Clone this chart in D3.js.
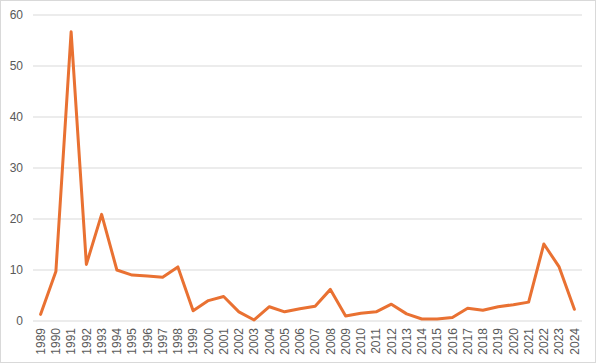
<!DOCTYPE html>
<html lang="en">
<head>
<meta charset="UTF-8">
<title>Line chart 1989-2024</title>
<script src="https://d3js.org/d3.v7.min.js"></script>
<style>
  body { margin: 0; background: #fff; font-family: "Liberation Sans", Arial, sans-serif; }
  .axis text { fill: #595959; }
</style>
</head>
<body>
<svg id="chart" width="597" height="364"></svg>
<script>
// Data
const years = ["1989","1990","1991","1992","1993","1994","1995","1996","1997","1998",
  "1999","2000","2001","2002","2003","2004","2005","2006","2007","2008",
  "2009","2010","2011","2012","2013","2014","2015","2016","2017","2018",
  "2019","2020","2021","2022","2023","2024"];
const values = [1.3, 9.7, 56.7, 11.1, 20.9, 10.0, 9.0, 8.8, 8.6, 10.6,
  2.0, 4.0, 4.8, 1.8, 0.2, 2.8, 1.8, 2.4, 2.9, 6.2,
  1.0, 1.5, 1.8, 3.3, 1.4, 0.4, 0.4, 0.7, 2.5, 2.1,
  2.8, 3.2, 3.7, 15.1, 10.6, 2.3];
const yTicks = [0, 10, 20, 30, 40, 50, 60];

const width = 597, height = 364;
const margin = { top: 15, right: 15, bottom: 43, left: 33 };

const svg = d3.select('#chart');

// outer frame
svg.append('rect')
  .attr('x', 0.5).attr('y', 0.5)
  .attr('width', width - 2).attr('height', height - 2)
  .attr('fill', 'none').attr('stroke', '#d9d9d9');

const x = d3.scaleBand()
  .domain(years)
  .range([margin.left, width - margin.right]);
const y = d3.scaleLinear()
  .domain([0, 60])
  .range([height - margin.bottom, margin.top]);

// gridlines
svg.append('g')
  .selectAll('line')
  .data(yTicks)
  .join('line')
    .attr('x1', margin.left).attr('x2', width - margin.right)
    .attr('y1', d => y(d)).attr('y2', d => y(d))
    .attr('stroke', '#d9d9d9').attr('stroke-width', 1);

// y axis labels
const yAxis = d3.axisLeft(y).tickValues(yTicks).tickSize(0).tickPadding(10);
svg.append('g')
  .attr('class', 'axis')
  .attr('transform', `translate(${margin.left},0)`)
  .call(yAxis)
  .call(g => g.select('.domain').remove())
  .selectAll('text').attr('font-size', 12).attr('font-family', '"Liberation Sans", Arial, sans-serif');

// x axis labels (rotated)
const xAxis = d3.axisBottom(x).tickSize(0).tickPadding(0);
svg.append('g')
  .attr('class', 'axis')
  .attr('transform', `translate(0,${y(0)})`)
  .call(xAxis)
  .call(g => g.select('.domain').remove())
  .selectAll('text')
    .attr('font-size', 12)
    .attr('font-family', '"Liberation Sans", Arial, sans-serif')
    .attr('transform', 'rotate(-90)')
    .attr('text-anchor', 'end')
    .attr('x', -7)
    .attr('y', 0)
    .attr('dy', '0.35em');

// line
const line = d3.line()
  .x((d, i) => x(years[i]) + x.bandwidth() / 2)
  .y(d => y(d));

svg.append('path')
  .datum(values)
  .attr('fill', 'none')
  .attr('stroke', '#E97132')
  .attr('stroke-width', 3)
  .attr('stroke-linejoin', 'round')
  .attr('stroke-linecap', 'round')
  .attr('d', line);
</script>
</body>
</html>
